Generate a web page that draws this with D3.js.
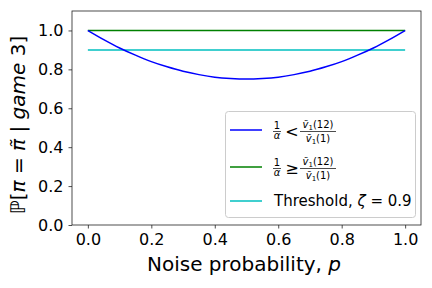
<!DOCTYPE html>
<html>
<head>
<meta charset="utf-8">
<script src="https://cdnjs.cloudflare.com/ajax/libs/d3/7.8.5/d3.min.js"></script>
<style>
body { margin: 0; background: #fff; }
text { font-family: "DejaVu Sans", sans-serif; fill: #000; }
</style>
</head>
<body>
<svg id="chart" width="432" height="288"></svg>
<script>
// values
var noise_p = [0, 0.05, 0.1, 0.15, 0.2, 0.25, 0.3, 0.35, 0.4, 0.45, 0.5,
               0.55, 0.6, 0.65, 0.7, 0.75, 0.8, 0.85, 0.9, 0.95, 1.0];
var prob_low = [1.0, 0.953, 0.91, 0.873, 0.84, 0.813, 0.79, 0.773, 0.76, 0.753, 0.75,
                0.753, 0.76, 0.773, 0.79, 0.813, 0.84, 0.873, 0.91, 0.953, 1.0];
var prob_high = [1.0, 1.0];
var prob_high_p = [0, 1.0];
var threshold = [0.9, 0.9];
var threshold_p = [0, 1.0];
var x_ticks = [0, 0.2, 0.4, 0.6, 0.8, 1.0];
var y_ticks = [0, 0.2, 0.4, 0.6, 0.8, 1.0];

var m_left = 72, m_right = 421, m_top = 11, m_bottom = 225;
var svg = d3.select("#chart");

var x = d3.scaleLinear().domain([-0.05, 1.05]).range([m_left, m_right]);
var y = d3.scaleLinear().domain([0, 1.1]).range([m_bottom, m_top]);

// axes
var xAxis = svg.append("g")
    .attr("transform", "translate(0," + m_bottom + ")")
    .call(d3.axisBottom(x).tickValues(x_ticks).tickFormat(d3.format(".1f")).tickSizeOuter(0).tickSize(3.5).tickPadding(5.5));
var yAxis = svg.append("g")
    .attr("transform", "translate(" + m_left + ",0)")
    .call(d3.axisLeft(y).tickValues(y_ticks).tickFormat(d3.format(".1f")).tickSizeOuter(0).tickSize(3.5).tickPadding(5));
[xAxis, yAxis].forEach(function(a){
    a.select(".domain").remove();
    a.selectAll("line").attr("stroke", "#222").attr("stroke-width", 0.8);
    a.selectAll("text").style("font-size", "16px").style("font-family", "DejaVu Sans").attr("fill", "#222");
});

// frame
svg.append("rect")
    .attr("x", m_left).attr("y", m_top)
    .attr("width", m_right - m_left).attr("height", m_bottom - m_top)
    .attr("fill", "none").attr("stroke", "#222").attr("stroke-width", 0.8);

// lines
var line = d3.line().x(function(d){ return x(d[0]); }).y(function(d){ return y(d[1]); });
svg.append("path")
    .attr("d", line(d3.zip(prob_high_p, prob_high)))
    .attr("fill", "none").attr("stroke", "green").attr("stroke-width", 1.5);
svg.append("path")
    .attr("d", line(d3.zip(threshold_p, threshold)))
    .attr("fill", "none").attr("stroke", "#00bfbf").attr("stroke-width", 1.5);
svg.append("path")
    .attr("d", line.curve(d3.curveMonotoneX)(d3.zip(noise_p, prob_low)))
    .attr("fill", "none").attr("stroke", "blue").attr("stroke-width", 1.5);

// axis labels
svg.append("text")
    .attr("x", 244).attr("y", 270.5)
    .attr("text-anchor", "middle").style("font-size", "20px")
    .html('Noise probability, <tspan font-style="italic">p</tspan>');

svg.append("text")
    .attr("transform", "translate(25,125) rotate(-90)")
    .attr("text-anchor", "middle").style("font-size", "20px")
    .html('ℙ[<tspan font-style="italic">π</tspan> = <tspan font-style="italic">π̃</tspan> | <tspan font-style="italic">game</tspan> 3]');

// legend
var lg = svg.append("g");
lg.append("rect")
    .attr("x", 225.5).attr("y", 111.5).attr("width", 190).attr("height", 106).attr("rx", 3)
    .attr("fill", "#fff").attr("fill-opacity", 0.8).attr("stroke", "#ccc");

var legend_colors = ["blue", "green", "#00bfbf"];
var legend_y = [130, 167, 201];

legend_colors.forEach(function(c, i){
    lg.append("line")
        .attr("x1", 230).attr("x2", 262)
        .attr("y1", legend_y[i]).attr("y2", legend_y[i])
        .attr("stroke", c).attr("stroke-width", 1.5);
});

function fracLabel(cy, sym){
    var g = lg.append("g");
    var fs = 10;
    // 1 / alpha
    g.append("text").attr("x", 277).attr("y", cy - 2).attr("text-anchor", "middle")
        .style("font-size", fs + "px").text("1");
    g.append("line").attr("x1", 273).attr("x2", 281).attr("y1", cy + 0.5).attr("y2", cy + 0.5)
        .attr("stroke", "#000").attr("stroke-width", 0.7);
    g.append("text").attr("x", 277).attr("y", cy + 8).attr("text-anchor", "middle")
        .style("font-size", fs + "px").attr("font-style", "italic").text("α");
    g.append("text").attr("x", 292).attr("y", cy + 5.5).attr("text-anchor", "middle")
        .style("font-size", "16px").text(sym);
    // v1(12) / v1(1)
    g.append("text").attr("x", 318).attr("y", cy - 3).attr("text-anchor", "middle")
        .style("font-size", fs + "px")
        .html('<tspan font-style="italic">ṽ</tspan><tspan font-size="7px" dy="2">1</tspan><tspan dy="-2">(12)</tspan>');
    g.append("line").attr("x1", 300).attr("x2", 336).attr("y1", cy + 0.5).attr("y2", cy + 0.5)
        .attr("stroke", "#000").attr("stroke-width", 0.7);
    g.append("text").attr("x", 318).attr("y", cy + 11).attr("text-anchor", "middle")
        .style("font-size", fs + "px")
        .html('<tspan font-style="italic">ṽ</tspan><tspan font-size="7px" dy="2">1</tspan><tspan dy="-2">(1)</tspan>');
}
fracLabel(legend_y[0] + 1, "<");
fracLabel(legend_y[1] + 1, "≥");

lg.append("text").attr("x", 274).attr("y", legend_y[2] + 5)
    .style("font-size", "15px")
    .html('Threshold, <tspan font-style="italic">ζ</tspan> = 0.9');
</script>
</body>
</html>
